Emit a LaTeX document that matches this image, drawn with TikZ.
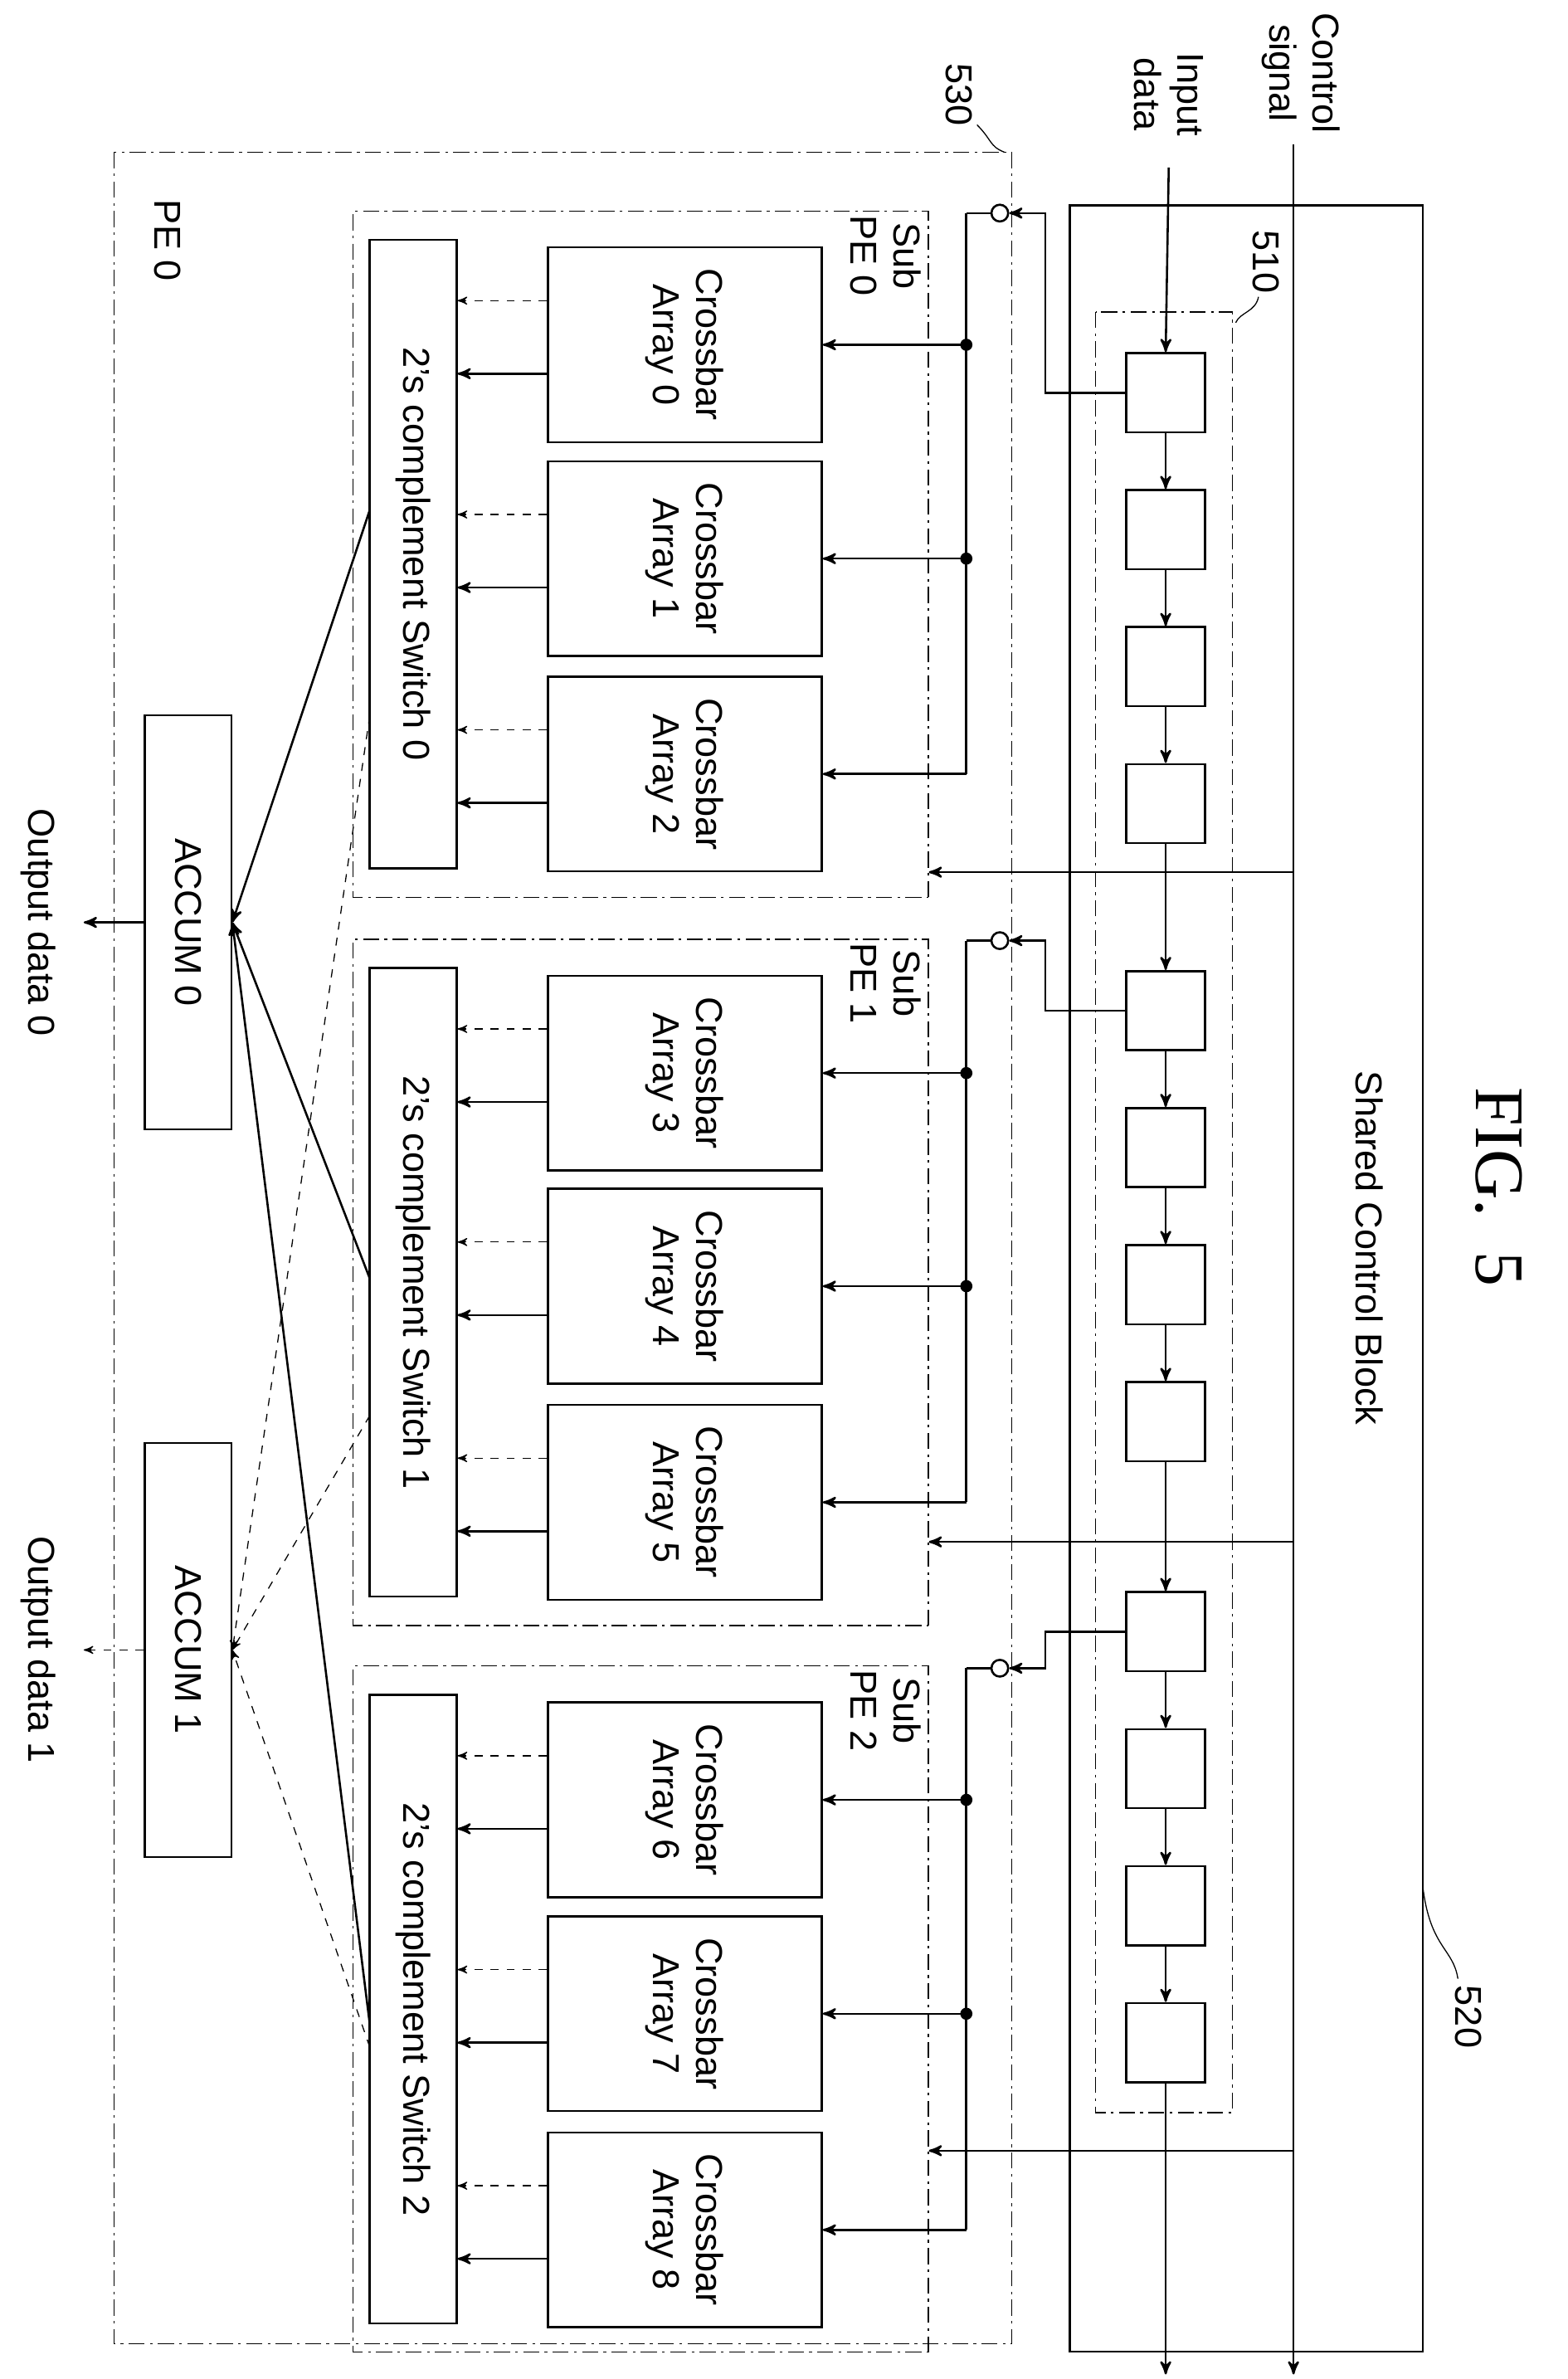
\documentclass[tikz,border=0pt]{standalone}
\usepackage{fontspec}
\setmainfont{Liberation Sans}
\newfontfamily\figfont{Liberation Serif}
\usetikzlibrary{arrows,calc}

\begin{document}
\begin{tikzpicture}[
                    x=0.02cm, y=-0.02cm,
                    >=stealth',
                    font=\fontsize{14}{16}\selectfont,
                    thick,
                    dashdot/.style={draw, dash pattern=on 6pt off 2pt on 1pt off 2pt, thin},
                    rbox/.style={
                        rectangle,
                        draw=black,
                        thick,
                        rotate=-90,
                        align=center,
                        inner sep=0pt
                    },
                    cell/.style={
                        rectangle,
                        draw=black,
                        thick,
                        minimum size=1.04cm,
                        inner sep=0pt
                    },
                    lbl/.style={rotate=-90, align=center, inner sep=1pt},
                    tap/.style={circle, draw, thick, inner sep=0pt, minimum size=0.22cm},
                    dot/.style={circle, fill, inner sep=0pt, minimum size=0.16cm}
                ]
                \useasboundingbox (0,0) rectangle (1030,1563);

                % title
                \node (fig) [lbl, font=\figfont\fontsize{26}{28}\selectfont] at (985,780) {FIG.~~5};

                % outer frames
                \draw[dashdot] (75,100) rectangle (665,1540);
                \node (pe) [lbl] at (110,158) {PE 0};
                \node (l530) [lbl] at (630,62) {530};
                \draw[thin] (642,82) .. controls (652,92) and (650,96) .. (660,100);
                \node (scb) [rbox, draw=none] at (900,820) {Shared Control Block};
                \draw (703,135) rectangle (935,1545);
                \node (l520) [lbl] at (965,1325) {520};
                \draw[thin] (935,1240) .. controls (940,1280) and (955,1280) .. (958,1300);
                \draw[dashdot] (720,205) rectangle (810,1388);
                \node (l510) [lbl] at (832,172) {510};
                \draw[thin] (827,195) .. controls (825,205) and (815,205) .. (812,212);

                % external signals
                \node (ctl) [lbl] at (855,48) {Control\\signal};
                \node (inp) [lbl] at (768,62) {Input\\data};
                \coordinate (ctlend) at (850,1560);
                \draw[->] (850,95) -- (ctlend);

                % shift register cells
                \foreach \n/\y in {0/258,1/348,2/438,3/528,4/664,5/754,6/844,7/934,8/1072,9/1162,10/1252,11/1342}
                    \node (c\n) [cell] at (766,\y) {};
                \draw[->] (768,110) -- (c0.north);
                \foreach \a/\b in {0/1,1/2,2/3,3/4,4/5,5/6,6/7,7/8,8/9,9/10,10/11}
                    \draw[->] (c\a.south) -- (c\b.north);
                \coordinate (inend) at (766,1560);
                \draw[->] (c11.south) -- (inend);

                % sub PEs
                \foreach \k/\y/\c/\ty in {0/364/0/140,1/842.5/4/618,2/1320/8/1096}{
                    \node (spe\k) [rbox, dashdot, minimum width=9.02cm, minimum height=7.56cm] at (421,\y) {};
                    \node (spl\k) [lbl] at (582,\ty+28) {Sub\\PE \k};
                    \node (tap\k) [tap] at (657,\ty) {};
                    \draw[->] (c\c.west) -| (687,\ty) -- (tap\k.east);
                    \draw (tap\k.west) -- (635,\ty);
                    \node (sw\k) [rbox, minimum width=8.26cm, minimum height=1.14cm] at (271.5,\y) {2's complement Switch \k};
                }
                \draw[->] (850,573) -- (spe0.north |- 0,573);
                \draw[->] (850,1013) -- (spe1.north |- 0,1013);
                \draw[->] (850,1413) -- (spe2.north |- 0,1413);

                % crossbar arrays
                \foreach \n/\y/\k in {0/226.5/0,1/367/0,2/508.5/0,3/705/1,4/845/1,5/987/1,6/1182.5/2,7/1323/2,8/1465/2}{
                    \node (xb\n) [rbox, minimum width=2.56cm, minimum height=3.6cm] at (450,\y) {Crossbar\\Array \n};
                    \draw[->] (635,\y) -- (xb\n.north);
                    \draw[->, thin, dashed] ($(xb\n.south)+(0,-29)$) -- (sw\k.north |- 0,\y-29);
                    \draw[->] ($(xb\n.south)+(0,19)$) -- (sw\k.north |- 0,\y+19);
                }
                \draw (635,140) -- (635,508.5);
                \draw (635,618) -- (635,987);
                \draw (635,1096) -- (635,1465);
                \foreach \y in {226.5,367,705,845,1182.5,1323}
                    \node (d\y) [dot] at (635,\y) {};

                % accumulators
                \node (acc0) [rbox, minimum width=5.44cm, minimum height=1.14cm] at (123.5,606) {ACCUM 0};
                \node (acc1) [rbox, minimum width=5.44cm, minimum height=1.14cm] at (123.5,1084) {ACCUM 1};
                \draw[->] (243,335) -- (acc0.north);
                \draw[->] (243,840) -- (acc0.north);
                \draw[->] (243,1330) -- (acc0.north);
                \draw[->, thin, dashed] (243,470) -- (acc1.north);
                \draw[->, thin, dashed] (243,930) -- (acc1.north);
                \draw[->, thin, dashed] (243,1345) -- (acc1.north);

                % outputs
                \coordinate (o0) at (55,606);
                \coordinate (o1) at (55,1084);
                \draw[->] (acc0.south) -- (o0);
                \draw[->, thin, dashed] (acc1.south) -- (o1);
                \node (out0) [lbl] at (25,606) {Output data 0};
                \node (out1) [lbl] at (25,1084) {Output data 1};
            \end{tikzpicture}
\end{document}
